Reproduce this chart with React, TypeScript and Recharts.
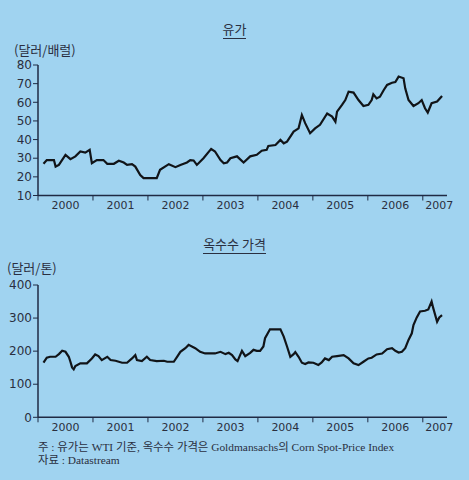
import React from 'react';
import { LineChart, Line, XAxis, YAxis } from 'recharts';

const oilDates = [2000.10, 2000.16, 2000.29, 2000.32, 2000.38, 2000.50, 2000.59, 2000.68, 2000.77, 2000.86, 2000.94, 2000.98,
  2001.07, 2001.19, 2001.26, 2001.38, 2001.47, 2001.56, 2001.62, 2001.71, 2001.77, 2001.86, 2001.92,
  2002.16, 2002.22, 2002.38, 2002.50, 2002.59, 2002.71, 2002.77, 2002.83, 2002.89,
  2003.01, 2003.15, 2003.22, 2003.32, 2003.38, 2003.44, 2003.50, 2003.62, 2003.74, 2003.86, 2003.98,
  2004.07, 2004.16, 2004.19, 2004.32, 2004.41, 2004.47, 2004.53, 2004.65, 2004.74, 2004.80, 2004.86, 2004.95,
  2005.04, 2005.13, 2005.26, 2005.35, 2005.41, 2005.44, 2005.53, 2005.59, 2005.65, 2005.74, 2005.83, 2005.92,
  2006.01, 2006.07, 2006.10, 2006.16, 2006.22, 2006.29, 2006.35, 2006.44, 2006.50, 2006.56, 2006.65, 2006.68, 2006.74, 2006.83, 2006.92, 2006.98,
  2007.04, 2007.09, 2007.16, 2007.26, 2007.35];
const oilValues = [27, 29, 29, 25.5, 26.4, 31.8, 29.5, 31, 33.6, 33, 34.5, 27.3,
  29, 29, 27, 27, 28.6, 27.7, 26.4, 26.8, 25.5, 21, 19.3,
  19.3, 23.8, 26.8, 25.2, 26.4, 27.7, 29, 28.8, 26.4,
  30, 35, 33.6, 29, 27.3, 27.7, 30, 31, 27.7, 31, 31.8,
  34, 34.5, 36.6, 37.1, 39.8, 38, 38.9, 44.3, 46, 53.2, 48.8, 43.4,
  46, 47.9, 54, 52.3, 49.6, 55, 58.6, 61.2, 65.7, 65.2, 61.2, 58,
  58.6, 61.2, 64.3, 62.1, 63, 66.6, 69.3, 70.5, 70.9, 73.8, 72.9, 67.5, 61.2, 58, 59.5, 61.2,
  56.8, 54.5, 59.5, 60.4, 63.4];

const cornDates = [2000.10, 2000.16, 2000.22, 2000.32, 2000.38, 2000.44, 2000.50, 2000.56, 2000.59, 2000.62, 2000.65, 2000.68, 2000.77, 2000.89, 2000.98,
  2001.04, 2001.10, 2001.16, 2001.26, 2001.32, 2001.41, 2001.53, 2001.62, 2001.71, 2001.77, 2001.80, 2001.89, 2001.98,
  2002.04, 2002.16, 2002.29, 2002.35, 2002.47, 2002.53, 2002.59, 2002.68, 2002.74, 2002.86, 2002.95,
  2003.04, 2003.22, 2003.32, 2003.41, 2003.47, 2003.53, 2003.59, 2003.63, 2003.71, 2003.77, 2003.86, 2003.92, 2003.98,
  2004.04, 2004.10, 2004.13, 2004.22, 2004.41, 2004.47, 2004.53, 2004.59, 2004.65, 2004.68, 2004.74, 2004.80, 2004.86, 2004.92,
  2005.01, 2005.10, 2005.16, 2005.22, 2005.29, 2005.35, 2005.44, 2005.56, 2005.65, 2005.74, 2005.83, 2005.92,
  2006.01, 2006.07, 2006.16, 2006.26, 2006.35, 2006.44, 2006.50, 2006.56, 2006.62, 2006.68, 2006.74, 2006.80, 2006.83, 2006.89, 2006.95,
  2007.04, 2007.10, 2007.16, 2007.19, 2007.26, 2007.30, 2007.35];
const cornValues = [165, 180, 183, 183, 191, 201, 198, 183, 168, 151, 145, 155, 163, 163, 178,
  190, 185, 173, 183, 173, 171, 165, 165, 178, 188, 173, 170, 183,
  173, 170, 171, 168, 168, 183, 198, 209, 219, 209, 198,
  193, 193, 198, 191, 195, 188, 175, 170, 201, 185, 195, 204, 201,
  201, 214, 239, 266, 266, 244, 214, 183, 191, 197, 183, 165, 161, 166,
  165, 158, 166, 178, 173, 183, 185, 188, 178, 163, 158, 168,
  178, 180, 190, 193, 206, 209, 201, 196, 198, 209, 234, 254, 279, 302, 320,
  322, 326, 350, 330, 289, 302, 309];

const oilTicks = [10, 20, 30, 40, 50, 60, 70, 80];
const cornTicks = [0, 100, 200, 300, 400];
const yearTicks = [2000, 2000.5, 2001, 2001.5, 2002, 2002.5, 2003, 2003.5, 2004, 2004.5, 2005, 2005.5, 2006, 2006.5, 2007, 2007.3];

const oilData = oilDates.map((d, i) => ({ t: d, v: oilValues[i] }));
const cornData = cornDates.map((d, i) => ({ t: d, v: cornValues[i] }));

const AXIS = '#1f2a44';
const TEXT = '#2a2f40';
const BG = '#a0d3f0';
const KR = '"Noto Sans CJK KR", "DejaVu Sans", sans-serif';

const XTick = (props: any) => {
  const { x, y, payload } = props;
  const v = payload.value as number;
  if (Number.isInteger(v)) {
    return <line x1={x} x2={x} y1={y} y2={y + 5} stroke={AXIS} strokeWidth={1} />;
  }
  return (
    <text x={x} y={y + 10} dy="0.35em" textAnchor="middle" fill={TEXT} fontSize={11} fontFamily='"DejaVu Sans", sans-serif'>
      {Math.floor(v)}
    </text>
  );
};

const Chart = ({ data, ticks, domain, marginTop, marginBottom, height }: any) => (
  <LineChart width={469} height={height} data={data} margin={{ top: marginTop, right: 22, bottom: marginBottom, left: 0 }}>
    <XAxis
      dataKey="t"
      type="number"
      domain={[2000, 2007.44]}
      ticks={yearTicks}
      interval={0}
      tickLine={false}
      tickSize={0}
      tickMargin={0}
      height={25}
      axisLine={{ stroke: AXIS, strokeWidth: 1.5 }}
      tick={<XTick />}
    />
    <YAxis
      type="number"
      domain={domain}
      ticks={ticks}
      interval={0}
      width={38}
      tickSize={5}
      tickMargin={1}
      axisLine={{ stroke: AXIS, strokeWidth: 1.5 }}
      tickLine={{ stroke: AXIS, strokeWidth: 1 }}
      tick={{ fill: TEXT, fontSize: 12, fontFamily: '"DejaVu Sans", sans-serif' }}
    />
    <Line dataKey="v" type="linear" stroke="#111418" strokeWidth={2.2} dot={false} isAnimationActive={false} />
  </LineChart>
);

const Title = ({ text, top }: { text: string; top: number }) => (
  <div style={{ position: 'absolute', left: 0, width: 469, top, textAlign: 'center' }}>
    <span style={{ display: 'inline-block', fontFamily: KR, fontSize: 13, lineHeight: '16px', color: TEXT, paddingBottom: 1, borderBottom: `1.5px solid ${TEXT}` }}>
      {text}
    </span>
  </div>
);

const noteStyle: React.CSSProperties = {
  position: 'absolute', left: 38, fontFamily: '"Liberation Serif", "Noto Sans CJK KR", serif',
  fontSize: 11.4, lineHeight: '13px', color: TEXT, whiteSpace: 'nowrap',
};

export default function App() {
  return (
    <div style={{ position: 'absolute', left: 0, top: 0, width: 469, height: 480, background: BG, overflow: 'hidden' }}>
      <Title text="유가" top={20} />
      <div style={{ position: 'absolute', left: 14, top: 43, fontFamily: KR, fontSize: 13, lineHeight: '13px', color: TEXT }}>(달러/배럴)</div>
      <div style={{ position: 'absolute', left: 0, top: 0 }}>
        <Chart data={oilData} ticks={oilTicks} domain={[10, 80]} marginTop={65} marginBottom={9.5} height={230} />
      </div>
      <Title text="옥수수 가격" top={235} />
      <div style={{ position: 'absolute', left: 7, top: 261, fontFamily: KR, fontSize: 13, lineHeight: '13px', color: TEXT }}>(달러/톤)</div>
      <div style={{ position: 'absolute', left: 0, top: 230 }}>
        <Chart data={cornData} ticks={cornTicks} domain={[0, 400]} marginTop={55} marginBottom={37.7} height={250} />
      </div>
      <div style={{ ...noteStyle, top: 441 }}>
        주 : 유가는 WTI 기준, 옥수수 가격은 Goldmansachs의 Corn Spot-Price Index
      </div>
      <div style={{ ...noteStyle, top: 454 }}>
        자료 : Datastream
      </div>
    </div>
  );
}
